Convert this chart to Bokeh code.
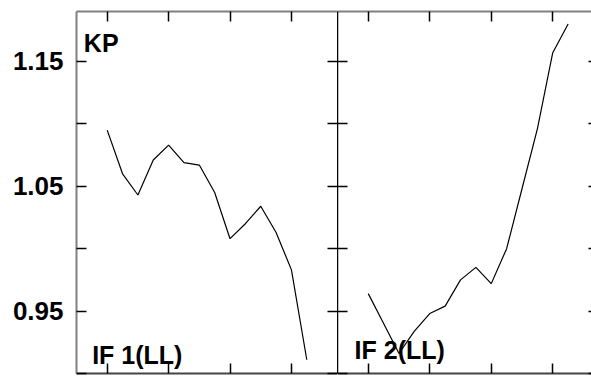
from bokeh.plotting import figure
from bokeh.models import LinearAxis, FixedTicker, Label, Range1d, PrintfTickFormatter
from bokeh.layouts import row
from bokeh.embed import file_html
from bokeh.resources import INLINE

# ---- data ----
idx = list(range(14))
if1_ll = [1.095, 1.060, 1.043, 1.071, 1.083, 1.069, 1.067, 1.045, 1.008, 1.020, 1.034, 1.013, 0.983, 0.911]
if2_ll = [0.964, 0.940, 0.916, 0.934, 0.948, 0.954, 0.975, 0.985, 0.972, 1.000, 1.048, 1.096, 1.157, 1.180]
y_major = [0.95, 1.05, 1.15]
y_minor = [0.90, 1.00, 1.10]
x_ticks = [0, 4, 8, 12]

FONT = "Liberation Sans"
GREY = "#808080"
DARK = "#444444"


def make_axis(kind, line_color, line_width, tick_in, labels=False):
    if labels:
        ticker = FixedTicker(ticks=y_major, minor_ticks=y_minor)
    elif kind == "y":
        ticker = FixedTicker(ticks=[], minor_ticks=y_major + y_minor)
    else:
        ticker = FixedTicker(ticks=[], minor_ticks=x_ticks)
    ax = LinearAxis(ticker=ticker,
                    major_tick_in=tick_in, major_tick_out=0,
                    minor_tick_in=tick_in, minor_tick_out=0,
                    major_tick_line_color="black", minor_tick_line_color="black",
                    major_tick_line_width=1.5, minor_tick_line_width=1.5,
                    axis_line_color=line_color, axis_line_width=line_width)
    if labels:
        ax.formatter = PrintfTickFormatter(format="%.2f")
        ax.major_label_text_font = FONT
        ax.major_label_text_font_style = "bold"
        ax.major_label_text_font_size = "26px"
        ax.major_label_text_color = "black"
        ax.major_label_standoff = 13
    else:
        ax.major_label_standoff = 0
    return ax


def base_fig(width, xr_end, left_border):
    p = figure(width=width, height=379,
               x_range=Range1d(-2, xr_end), y_range=Range1d(0.90, 1.19),
               output_backend="svg", toolbar_location=None,
               x_axis_location=None, y_axis_location=None,
               min_border_left=left_border, min_border_right=0,
               min_border_top=11, min_border_bottom=6)
    p.outline_line_color = None
    p.grid.visible = False
    p.background_fill_color = "white"
    p.border_fill_color = "white"
    return p


# ---- left panel ----
p1 = base_fig(337, 15, 76)
p1.add_layout(make_axis("y", GREY, 2, 10, labels=True), "left")
p1.add_layout(make_axis("y", GREY, 1, 10), "right")
p1.add_layout(make_axis("x", DARK, 2, 10), "below")
p1.add_layout(make_axis("x", GREY, 2, 10), "above")
p1.line(idx, if1_ll, line_color="black", line_width=1.2)
p1.add_layout(Label(x=-1.52, y=1.165, text="KP", text_font=FONT, text_font_style="bold",
                    text_font_size="25px", text_baseline="alphabetic", text_color="black"))
p1.add_layout(Label(x=-0.98, y=0.9152, text="IF 1(LL)", text_font=FONT, text_font_style="bold",
                    text_font_size="25px", text_baseline="alphabetic", text_color="black"))

# ---- right panel ----
p2 = base_fig(254, 14.52, 0)
p2.add_layout(make_axis("y", "black", 1.5, 10), "left")
r_ax = make_axis("y", None, 0, 3)
r_ax.axis_line_color = None
p2.add_layout(r_ax, "right")
p2.add_layout(make_axis("x", DARK, 2, 10), "below")
p2.add_layout(make_axis("x", GREY, 2, 10), "above")
p2.line(idx, if2_ll, line_color="black", line_width=1.2)
p2.add_layout(Label(x=-0.89, y=0.9185, text="IF 2(LL)", text_font=FONT, text_font_style="bold",
                    text_font_size="25px", text_baseline="alphabetic", text_color="black"))

layout = row(p1, p2)
open("out.html", "w").write(file_html(layout, INLINE))
